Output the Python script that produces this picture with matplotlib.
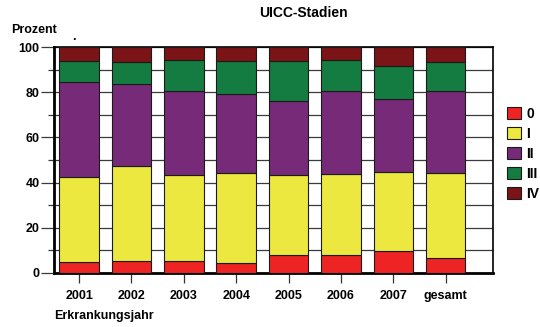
import matplotlib
matplotlib.use("Agg")
import matplotlib.pyplot as plt
from matplotlib.patches import Patch
from matplotlib.ticker import MultipleLocator
import numpy as np

plt.rcParams['font.family'] = ['Liberation Sans', 'DejaVu Sans']
plt.rcParams['font.weight'] = 'bold'

# Anteile der UICC-Stadien je Erkrankungsjahr (in Prozent)
years = ['2001', '2002', '2003', '2004', '2005', '2006', '2007', 'gesamt']
stage_labels = ['0', 'I', 'II', 'III', 'IV']
stage_0 = [4.6, 5.3, 5.2, 4.3, 7.8, 8.0, 9.7, 6.3]
stage_I = [37.7, 42.0, 38.2, 39.8, 35.4, 35.7, 35.1, 37.8]
stage_II = [42.1, 36.6, 37.4, 35.1, 32.8, 37.1, 32.2, 36.3]
stage_III = [9.5, 9.8, 13.7, 14.7, 17.9, 13.6, 14.9, 13.3]
stage_IV = [6.1, 6.3, 5.5, 6.1, 6.1, 5.6, 8.1, 6.3]

colors = ['#ee2424', '#ece840', '#772a78', '#147c40', '#7a1416']

fig = plt.figure(figsize=(5.4, 3.27), dpi=100)
ax = fig.add_axes([54 / 540, (327 - 272.7) / 327, (493.3 - 54) / 540, (272.7 - 47.3) / 327])

x = np.arange(len(years))
bottom = np.zeros(len(years))
for vals, col in zip([stage_0, stage_I, stage_II, stage_III, stage_IV], colors):
    v = np.array(vals)
    ax.bar(x, v, width=0.755, bottom=bottom, color=col, edgecolor='#1a1a1a',
           linewidth=0.8, zorder=3)
    bottom += v

ax.set_xlim(-0.48, 7.91)
ax.set_ylim(0, 100)
ax.yaxis.set_major_locator(MultipleLocator(20))
ax.yaxis.set_minor_locator(MultipleLocator(10))
ax.set_axisbelow(True)
ax.grid(axis='y', which='both', color='#3a3a3a', linewidth=0.9, zorder=0)

ax.set_xticks(x)
ax.set_xticklabels(years, fontsize=9, fontweight='bold')
ax.tick_params(axis='x', length=7.5, width=0.9, color='#333333', pad=5)
ax.tick_params(axis='y', which='major', length=9.5, width=0.9, color='#3a3a3a',
               labelsize=9, pad=1)
ax.tick_params(axis='y', which='minor', length=4, width=0.9, color='#3a3a3a')
for lab in ax.get_yticklabels():
    lab.set_fontweight('bold')

for side in ['left', 'bottom']:
    ax.spines[side].set_linewidth(2.0)
    ax.spines[side].set_color('black')
for side in ['top', 'right']:
    ax.spines[side].set_linewidth(1.2)
    ax.spines[side].set_color('black')

fig.text(303 / 540, 1 - 13 / 327, 'UICC-Stadien', ha='center', va='center',
         fontsize=10, fontweight='bold')
fig.text(11 / 540, 1 - 30 / 327, 'Prozent', ha='left', va='center',
         fontsize=9, fontweight='bold')
fig.text(74 / 540, 1 - 37 / 327, '.', ha='center', va='center',
         fontsize=9, fontweight='bold')
fig.text(54 / 540, 1 - 316 / 327, 'Erkrankungsjahr', ha='left', va='center',
         fontsize=9, fontweight='bold')

handles = [Patch(facecolor=c, edgecolor='#1a1a1a', linewidth=0.8) for c in colors]
fig.legend(handles, stage_labels, loc='upper left',
           bbox_to_anchor=(507 / 540, 1 - 107 / 327), frameon=False,
           prop={'size': 10, 'weight': 'bold'}, handlelength=1.0,
           handleheight=0.95, labelspacing=0.43, handletextpad=0.4,
           borderaxespad=0, borderpad=0)

fig.savefig('out.png', dpi=100)
